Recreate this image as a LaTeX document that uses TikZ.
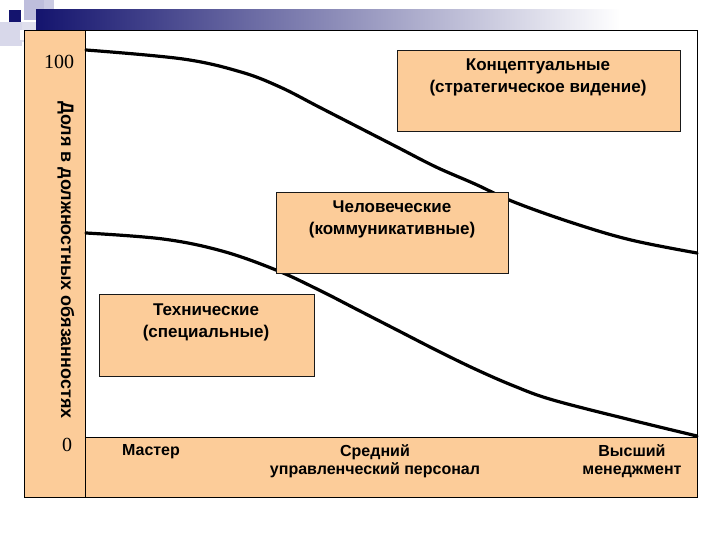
\documentclass[tikz,border=0pt]{standalone}
\usepackage{fontspec}
\setmainfont{Liberation Serif}
\setsansfont{Liberation Sans}
\usetikzlibrary{positioning}

\definecolor{peach}{RGB}{252,204,153}
\definecolor{navy}{RGB}{20,20,110}
\definecolor{lilac}{RGB}{190,190,220}

\begin{document}
\begin{tikzpicture}[x=1pt,y=-1pt,
                    box/.style={draw=black!90,fill=peach,line width=1pt,
                                minimum width=#1,anchor=north west},
                    lbl/.style={font=\sffamily\bfseries\fontsize{17}{22}\selectfont,
                                align=center,anchor=north},
                    lvl/.style={font=\sffamily\bfseries\fontsize{16}{18}\selectfont,
                                align=center,anchor=north},
                    curve/.style={line width=3.2pt,line cap=round}]

  \useasboundingbox (0,0) rectangle (720,540);

  % header decoration
  \fill[lilac!60] (0,22) rectangle (22,46);
  \fill[lilac] (24,0) rectangle (44,20);
  \fill[lilac!80] (44,0) rectangle (54,44);
  \fill[lilac!50] (22,22) rectangle (44,42);
  \fill[navy] (9,10) rectangle (21,22);
  \shade[left color=navy,right color=white] (36,10) rectangle (620,30);
  \fill[white] (20,30) rectangle (720,40);

  % panels
  \fill[white] (24,30) rectangle (697,497);
  \fill[peach] (24,31) rectangle (85,497);
  \fill[peach] (85,437) rectangle (697,497);
  \draw[line width=0.8pt] (24,30) rectangle (697,497);
  \draw[line width=0.8pt] (85,31) -- (85,497);
  \draw[line width=0.8pt] (85,437) -- (697,437);

  % axis labels
  \node (hi) at (59,62) {\fontsize{20}{20}\selectfont 100};
  \node (lo) at (67,445) {\fontsize{20}{20}\selectfont 0};
  \node[font=\sffamily\bfseries\fontsize{18}{18}\selectfont,rotate=-90]
       (dolya) at (66,260) {Доля в должностных обязанностях};

  % curves
  \draw[curve] plot[smooth,tension=0.6] coordinates
        {(86,50) (183,59) (241,72) (280,87) (319,107) (358,127) (397,147)
         (436,167) (475,184) (514,202) (573,223) (631,240) (697,253)};
  \draw[curve] plot[smooth,tension=0.6] coordinates
        {(86,233) (163,239) (222,251) (276,270) (319,290) (358,310) (397,330)
         (436,350) (475,369) (514,386) (553,400) (631,420) (697,436)};

  % boxes
  \node[box=283pt,minimum height=81pt] (konc) at (397,50) {};
  \node[box=232pt,minimum height=81pt] (chel) at (276,192) {};
  \node[box=215pt,minimum height=82pt] (tekh) at (99,294) {};

  \node[lbl] (koncT) at (538,55)  {Концептуальные\\(стратегическое видение)};
  \node[lbl] (chelT) at (392,197) {Человеческие\\(коммуникативные)};
  \node[lbl] (tekhT) at (206,300) {Технические\\(специальные)};

  % levels
  \node[lvl] (master) at (151,441) {Мастер};
  \node[lvl] (sred)   at (375,441) {Средний\\управленческий персонал};
  \node[lvl] (vyssh)  at (632,441) {Высший\\менеджмент};
\end{tikzpicture}
\end{document}
